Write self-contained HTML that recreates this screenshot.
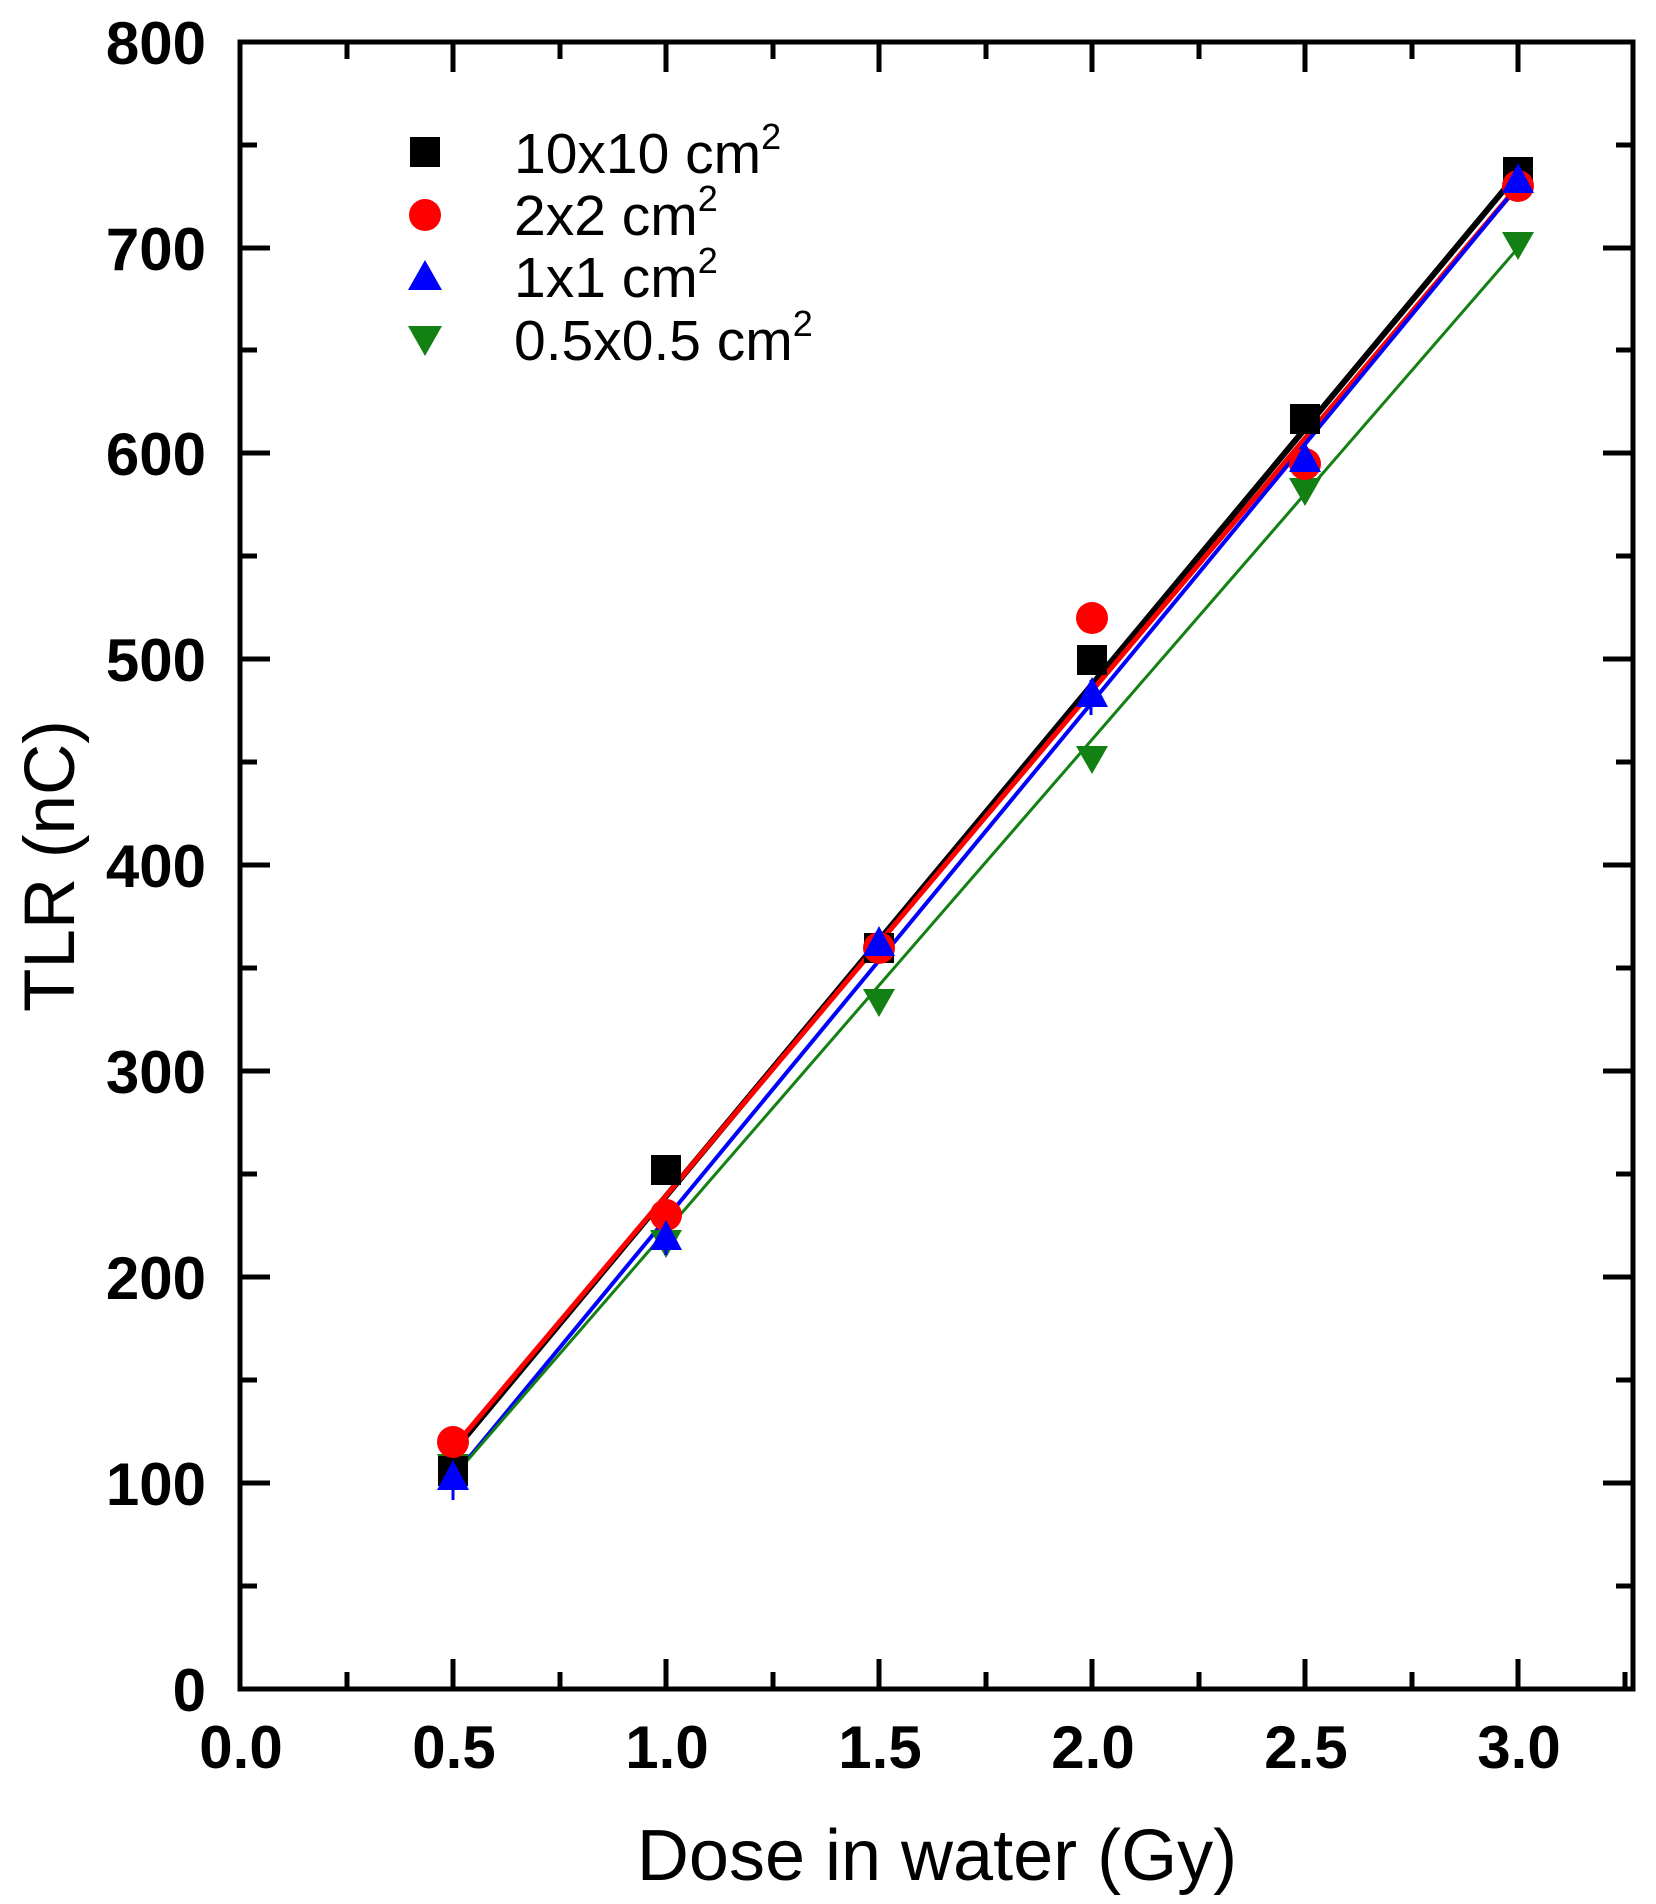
<!DOCTYPE html>
<html><head><meta charset="utf-8"><style>
html,body{margin:0;padding:0;background:#fff;}
svg{display:block;}
</style></head><body>
<svg width="1656" height="1904" viewBox="0 0 1656 1904" xmlns="http://www.w3.org/2000/svg" font-family="Liberation Sans, sans-serif">
<defs>
<symbol id="sq" viewBox="-17 -17 34 34" overflow="visible"><rect x="-15" y="-15" width="30" height="30" fill="#000"/></symbol>
</defs>
<rect width="1656" height="1904" fill="#fff"/>
<g id="lines" stroke-linecap="round">
<!-- x(v)=240+426v ; y(v)=1689-2.059v -->
<line x1="453" y1="1452" x2="1518" y2="173" stroke="#000" stroke-width="6"/>
<line x1="453" y1="1448" x2="1518" y2="186" stroke="#f00" stroke-width="5"/>
<line x1="453" y1="1477" x2="1518" y2="186" stroke="#00f" stroke-width="4"/>
<line x1="453" y1="1477" x2="1518" y2="248" stroke="#138013" stroke-width="3"/>
</g>
<g id="markers">
<!-- green down triangles -->
<g fill="#138013">
<path d="M437,1454 h32 l-16,28 z"/>
<path d="M650,1230 h32 l-16,28 z"/>
<path d="M863,989 h32 l-16,28 z"/>
<path d="M1076,746 h32 l-16,28 z"/>
<path d="M1289,478 h32 l-16,28 z"/>
<path d="M1502,232 h32 l-16,28 z"/>
</g>
<!-- black squares -->
<g fill="#000">
<rect x="438" y="1456" width="30" height="30"/>
<rect x="651" y="1155" width="30" height="30"/>
<rect x="864" y="933" width="30" height="30"/>
<rect x="1077" y="645" width="30" height="30"/>
<rect x="1290" y="404" width="30" height="30"/>
<rect x="1503" y="157" width="30" height="30"/>
</g>
<!-- red circles -->
<g fill="#f00">
<circle cx="453" cy="1442" r="16"/>
<circle cx="666" cy="1215" r="16"/>
<circle cx="879" cy="948" r="16"/>
<circle cx="1092" cy="618" r="16"/>
<circle cx="1305" cy="464" r="16"/>
<circle cx="1518" cy="186" r="16"/>
</g>
<!-- blue triangles -->
<g fill="#00f">
<path d="M437,1490 h32 l-16,-30 z"/>
<path d="M650,1250 h32 l-16,-30 z"/>
<path d="M863,956 h32 l-16,-30 z"/>
<path d="M1076,707 h32 l-16,-30 z"/>
<path d="M1289,472 h32 l-16,-30 z"/>
<path d="M1502,193 h32 l-16,-30 z"/>
</g>
<g stroke="#00f" stroke-width="3">
<line x1="453" y1="1465" x2="453" y2="1500"/>
<line x1="666" y1="1225" x2="666" y2="1255"/>
<line x1="1091" y1="680" x2="1091" y2="715"/>
</g>
</g>
<!-- axes frame -->
<rect x="240" y="42" width="1393" height="1647" fill="none" stroke="#000" stroke-width="5"/>
<g stroke="#000" stroke-width="5">
<!-- y ticks left & right -->
<path d="M240,1689h30M240,1483h30M240,1277h30M240,1071h30M240,865h30M240,659h30M240,453h30M240,248h30M240,42h30
M240,1586h17M240,1380h17M240,1174h17M240,968h17M240,762h17M240,556h17M240,350h17M240,145h17
M1633,1689h-30M1633,1483h-30M1633,1277h-30M1633,1071h-30M1633,865h-30M1633,659h-30M1633,453h-30M1633,248h-30
M1633,1586h-17M1633,1380h-17M1633,1174h-17M1633,968h-17M1633,762h-17M1633,556h-17M1633,350h-17M1633,145h-17"/>
<!-- x ticks bottom & top -->
<path d="M453,1689v-30M666,1689v-30M879,1689v-30M1092,1689v-30M1305,1689v-30M1518,1689v-30
M347,1689v-17M560,1689v-17M773,1689v-17M986,1689v-17M1199,1689v-17M1412,1689v-17M1625,1689v-17
M453,42v30M666,42v30M879,42v30M1092,42v30M1305,42v30M1518,42v30
M347,42v17M560,42v17M773,42v17M986,42v17M1199,42v17M1412,42v17"/>
</g>
<!-- y tick labels -->
<g font-size="60" font-weight="bold" text-anchor="end" fill="#000">
<text x="206" y="1711">0</text>
<text x="206" y="1505">100</text>
<text x="206" y="1299">200</text>
<text x="206" y="1093">300</text>
<text x="206" y="887">400</text>
<text x="206" y="681">500</text>
<text x="206" y="475">600</text>
<text x="206" y="270">700</text>
<text x="206" y="64">800</text>
</g>
<!-- x tick labels -->
<g font-size="60" font-weight="bold" text-anchor="middle" fill="#000">
<text x="241" y="1768">0.0</text>
<text x="454" y="1768">0.5</text>
<text x="667" y="1768">1.0</text>
<text x="880" y="1768">1.5</text>
<text x="1093" y="1768">2.0</text>
<text x="1306" y="1768">2.5</text>
<text x="1519" y="1768">3.0</text>
</g>
<!-- axis titles -->
<text x="937" y="1880" font-size="72" text-anchor="middle" fill="#000">Dose in water (Gy)</text>
<text transform="translate(74,866) rotate(-90)" font-size="71" text-anchor="middle" fill="#000">TLR (nC)</text>
<!-- legend -->
<rect x="410" y="137" width="30" height="30" fill="#000"/>
<circle cx="425" cy="215" r="16" fill="#f00"/>
<path d="M408,290 h34 l-17,-30 z" fill="#00f"/>
<path d="M408,326 h34 l-17,30 z" fill="#138013"/>
<g font-size="57" fill="#000">
<text x="514" y="173">10x10 cm<tspan dy="-24" font-size="36">2</tspan></text>
<text x="514" y="235">2x2 cm<tspan dy="-24" font-size="36">2</tspan></text>
<text x="514" y="297">1x1 cm<tspan dy="-24" font-size="36">2</tspan></text>
<text x="514" y="360">0.5x0.5 cm<tspan dy="-24" font-size="36">2</tspan></text>
</g>
</svg>
</body></html>
